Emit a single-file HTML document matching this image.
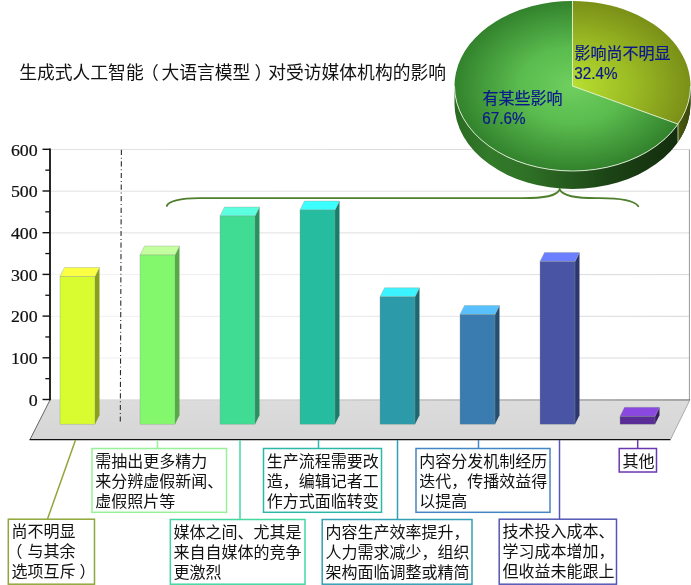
<!DOCTYPE html>
<html lang="zh-CN"><head><meta charset="utf-8"><title>生成式人工智能（大语言模型）对受访媒体机构的影响</title>
<style>html,body{margin:0;padding:0;background:#fff;}body{width:691px;height:585px;overflow:hidden;}svg{display:block;}text{font-family:"Liberation Sans","Noto Sans CJK SC","WenQuanYi Zen Hei",sans-serif;}.num{font-family:"Liberation Serif","Noto Serif CJK SC",serif;font-size:17px;fill:#111;stroke:#111;stroke-width:0.2px;}.lbl{font-size:16px;fill:#111;}.pl{font-size:16px;fill:#0a188c;stroke:#0a188c;stroke-width:0.2px;}.pn{font-size:16.6px;fill:#0a188c;stroke:#0a188c;stroke-width:0.2px;}.title{font-size:17.8px;fill:#111;}</style></head><body>
<svg width="691" height="585" viewBox="0 0 691 585">
<defs>
<radialGradient id="gG" gradientUnits="userSpaceOnUse" cx="572" cy="86" r="118" gradientTransform="translate(0 86) scale(1 0.72) translate(0 -86)"><stop offset="0" stop-color="#6fd060"/><stop offset="0.45" stop-color="#5abb4e"/><stop offset="1" stop-color="#32822c"/></radialGradient>
<radialGradient id="gY" gradientUnits="userSpaceOnUse" cx="572" cy="86" r="118" gradientTransform="translate(0 86) scale(1 0.72) translate(0 -86)"><stop offset="0" stop-color="#b8e030"/><stop offset="0.5" stop-color="#9cbc24"/><stop offset="1" stop-color="#7a9018"/></radialGradient>
<linearGradient id="gS" gradientUnits="userSpaceOnUse" x1="454" y1="0" x2="691" y2="0"><stop offset="0" stop-color="#2a6a22"/><stop offset="0.15" stop-color="#337a2a"/><stop offset="0.3" stop-color="#2f7227"/><stop offset="0.45" stop-color="#275e1f"/><stop offset="0.65" stop-color="#1c4416"/><stop offset="0.85" stop-color="#163410"/><stop offset="1" stop-color="#122c0c"/></linearGradient>
<linearGradient id="gSY" x1="0" y1="0" x2="1" y2="0"><stop offset="0" stop-color="#4a5a0e"/><stop offset="1" stop-color="#3a480a"/></linearGradient>
<linearGradient id="gF" x1="0" y1="0" x2="0" y2="1"><stop offset="0" stop-color="#dcdcdc"/><stop offset="1" stop-color="#d6d6d6"/></linearGradient>
<linearGradient id="gL" gradientUnits="userSpaceOnUse" x1="50" y1="0" x2="690" y2="0"><stop offset="0" stop-color="#f2f2f2"/><stop offset="0.5" stop-color="#e8e8e8"/><stop offset="1" stop-color="#d6d6d6"/></linearGradient>
<linearGradient id="gL2" gradientUnits="userSpaceOnUse" x1="50" y1="0" x2="690" y2="0"><stop offset="0" stop-color="#e2e2e2"/><stop offset="1" stop-color="#dadada"/></linearGradient>
<linearGradient id="gE" gradientUnits="userSpaceOnUse" x1="50" y1="0" x2="690" y2="0"><stop offset="0" stop-color="#dcdcdc"/><stop offset="0.4" stop-color="#c8c8c8"/><stop offset="1" stop-color="#555"/></linearGradient>
</defs>
<rect width="691" height="585" fill="#fff"/>
<rect x="50" y="357.50" width="639.5" height="1" fill="url(#gL)"/>
<rect x="50" y="315.80" width="639.5" height="1" fill="url(#gL)"/>
<rect x="50" y="274.10" width="639.5" height="1" fill="url(#gL)"/>
<rect x="50" y="232.40" width="639.5" height="1" fill="url(#gL2)"/>
<rect x="50" y="190.70" width="639.5" height="1" fill="url(#gL2)"/>
<rect x="50" y="149.00" width="639.5" height="1" fill="url(#gL2)"/>
<rect x="688.9" y="149.6" width="1" height="250.5" fill="#9a9a9a"/>
<polygon points="50,399.7 690,399.7 670.5,439.5 30,439.5" fill="url(#gF)"/>
<rect x="50" y="399.5" width="640" height="0.9" fill="url(#gE)"/>
<line x1="50" y1="400" x2="30" y2="439.5" stroke="#555" stroke-width="0.9"/>
<line x1="29.6" y1="439.6" x2="670.6" y2="439.6" stroke="#111" stroke-width="1.35"/>
<line x1="670.5" y1="439.5" x2="690" y2="399.7" stroke="#9a9a9a" stroke-width="0.8"/>
<line x1="121.4" y1="149.7" x2="120.3" y2="421.6" stroke="#2c2c2c" stroke-width="1.1" stroke-dasharray="5.2 2.8 1 2.6"/>
<line x1="50" y1="148.5" x2="50" y2="400.3" stroke="#111" stroke-width="1.8"/>
<line x1="42.5" y1="399.50" x2="50" y2="399.50" stroke="#111" stroke-width="1.4"/>
<text class="num" transform="translate(37.7,405.70) scale(1.05,1)" text-anchor="end">0</text>
<line x1="45.3" y1="378.65" x2="50" y2="378.65" stroke="#111" stroke-width="1.3"/>
<line x1="42.5" y1="357.80" x2="50" y2="357.80" stroke="#111" stroke-width="1.4"/>
<text class="num" transform="translate(37.7,364.00) scale(1.05,1)" text-anchor="end">100</text>
<line x1="45.3" y1="336.95" x2="50" y2="336.95" stroke="#111" stroke-width="1.3"/>
<line x1="42.5" y1="316.10" x2="50" y2="316.10" stroke="#111" stroke-width="1.4"/>
<text class="num" transform="translate(37.7,322.30) scale(1.05,1)" text-anchor="end">200</text>
<line x1="45.3" y1="295.25" x2="50" y2="295.25" stroke="#111" stroke-width="1.3"/>
<line x1="42.5" y1="274.40" x2="50" y2="274.40" stroke="#111" stroke-width="1.4"/>
<text class="num" transform="translate(37.7,280.60) scale(1.05,1)" text-anchor="end">300</text>
<line x1="45.3" y1="253.55" x2="50" y2="253.55" stroke="#111" stroke-width="1.3"/>
<line x1="42.5" y1="232.70" x2="50" y2="232.70" stroke="#111" stroke-width="1.4"/>
<text class="num" transform="translate(37.7,238.90) scale(1.05,1)" text-anchor="end">400</text>
<line x1="45.3" y1="211.85" x2="50" y2="211.85" stroke="#111" stroke-width="1.3"/>
<line x1="42.5" y1="191.00" x2="50" y2="191.00" stroke="#111" stroke-width="1.4"/>
<text class="num" transform="translate(37.7,197.20) scale(1.05,1)" text-anchor="end">500</text>
<line x1="45.3" y1="170.15" x2="50" y2="170.15" stroke="#111" stroke-width="1.3"/>
<line x1="42.5" y1="149.30" x2="50" y2="149.30" stroke="#111" stroke-width="1.4"/>
<text class="num" transform="translate(37.7,155.50) scale(1.05,1)" text-anchor="end">600</text>
<path d="M166.8,206 C168,201.5 180,198.2 199,198.2 L522,198.2 C545,198.2 557,196 559.7,189.4 C562.5,196 575,198.2 597,198.2 L600,198.2 C620,198.2 634,200.5 638.3,206.2" fill="none" stroke="#4f7f2c" stroke-width="1.8" stroke-linecap="round"/>
<polygon points="95,276.5 99.5,267.5 99.5,415.2 95,424.2" fill="#8aa01c"/>
<polygon points="60,276.5 95,276.5 99.5,267.5 64.5,267.5" fill="#fbff44" stroke="#8a9a8a" stroke-width="0.5" stroke-opacity="0.7"/>
<rect x="60" y="276.5" width="35" height="147.70" fill="#d8fc30" stroke="#8a9a8a" stroke-width="0.5" stroke-opacity="0.7"/>
<polygon points="175,255.0 179.5,246.0 179.5,415.2 175,424.2" fill="#58a848"/>
<polygon points="140,255.0 175,255.0 179.5,246.0 144.5,246.0" fill="#c4ffa0" stroke="#8a9a8a" stroke-width="0.5" stroke-opacity="0.7"/>
<rect x="140" y="255.0" width="35" height="169.20" fill="#84f86c" stroke="#8a9a8a" stroke-width="0.5" stroke-opacity="0.7"/>
<polygon points="255,216.0 259.5,207.0 259.5,415.2 255,424.2" fill="#2a9060"/>
<polygon points="220,216.0 255,216.0 259.5,207.0 224.5,207.0" fill="#5cffe0" stroke="#8a9a8a" stroke-width="0.5" stroke-opacity="0.7"/>
<rect x="220" y="216.0" width="35" height="208.20" fill="#40dc94" stroke="#8a9a8a" stroke-width="0.5" stroke-opacity="0.7"/>
<polygon points="335,210.0 339.5,201.0 339.5,415.2 335,424.2" fill="#1a7c6a"/>
<polygon points="300,210.0 335,210.0 339.5,201.0 304.5,201.0" fill="#3cffff" stroke="#8a9a8a" stroke-width="0.5" stroke-opacity="0.7"/>
<rect x="300" y="210.0" width="35" height="214.20" fill="#26bca0" stroke="#8a9a8a" stroke-width="0.5" stroke-opacity="0.7"/>
<polygon points="415,296.8 419.5,287.8 419.5,415.2 415,424.2" fill="#1e6670"/>
<polygon points="380,296.8 415,296.8 419.5,287.8 384.5,287.8" fill="#3cf4ff" stroke="#8a9a8a" stroke-width="0.5" stroke-opacity="0.7"/>
<rect x="380" y="296.8" width="35" height="127.40" fill="#2c9aa8" stroke="#8a9a8a" stroke-width="0.5" stroke-opacity="0.7"/>
<polygon points="495,314.5 499.5,305.5 499.5,415.2 495,424.2" fill="#264e6e"/>
<polygon points="460,314.5 495,314.5 499.5,305.5 464.5,305.5" fill="#58c0ff" stroke="#8a9a8a" stroke-width="0.5" stroke-opacity="0.7"/>
<rect x="460" y="314.5" width="35" height="109.70" fill="#3a7cb0" stroke="#8a9a8a" stroke-width="0.5" stroke-opacity="0.7"/>
<polygon points="575,261.5 579.5,252.5 579.5,415.2 575,424.2" fill="#2e3670"/>
<polygon points="540,261.5 575,261.5 579.5,252.5 544.5,252.5" fill="#6c80ff" stroke="#8a9a8a" stroke-width="0.5" stroke-opacity="0.7"/>
<rect x="540" y="261.5" width="35" height="162.70" fill="#4a54a4" stroke="#8a9a8a" stroke-width="0.5" stroke-opacity="0.7"/>
<polygon points="655,416.3 659.5,407.3 659.5,415.2 655,424.2" fill="#3a1c64"/>
<polygon points="620,416.3 655,416.3 659.5,407.3 624.5,407.3" fill="#8a48e0" stroke="#8a9a8a" stroke-width="0.5" stroke-opacity="0.7"/>
<rect x="620" y="416.3" width="35" height="7.90" fill="#5a2c98" stroke="#8a9a8a" stroke-width="0.5" stroke-opacity="0.7"/>
<path d="M454.5,86 L454.5,104 A118,85 0 0 0 690.5,104 L690.5,86 A118,85 0 0 1 454.5,86 Z" fill="url(#gS)"/>
<path d="M677.97,124.11 L677.97,142.11 A118,85 0 0 0 690.5,104 L690.5,86 A118,85 0 0 1 677.97,124.11 Z" fill="url(#gSY)"/>
<line x1="677.97" y1="124.11" x2="677.97" y2="142.11" stroke="#d8e8c0" stroke-width="0.8"/>
<path d="M572.5,86 L572.5,1 A118,85 0 1 0 677.97,124.11 Z" fill="url(#gG)"/>
<path d="M572.5,86 L572.5,1 A118,85 0 0 1 677.97,124.11 Z" fill="url(#gY)"/>
<path d="M572.5,1 L572.5,86 L677.97,124.11" fill="none" stroke="#e4f0d0" stroke-width="0.9"/>
<path d="M454.5,86 A118,85 0 0 0 690.5,86" fill="none" stroke="#e6f2e0" stroke-width="1" opacity="0.9"/>
<text class="pl" x="574.5" y="59.2">影响尚不明显</text>
<text class="pn" transform="translate(574.3,79.4) scale(0.92,1)">32.4%</text>
<text class="pl" x="482.5" y="103.6">有某些影响</text>
<text class="pn" transform="translate(482.3,124) scale(0.92,1)">67.6%</text>
<text class="title" x="19.2" y="78.5">生成式人工智能<tspan dx="-2.6">（</tspan><tspan dx="2.6">大语言模型</tspan><tspan dx="4">）</tspan><tspan dx="-4">对受访媒体机构的影响</tspan></text>
<line x1="75.5" y1="440" x2="47.5" y2="519" stroke="#8fa63a" stroke-width="1.5"/>
<rect x="8.3" y="519.2" width="86.20" height="65.00" fill="#fff" stroke="#8fa63a" stroke-width="1.5"/>
<text class="lbl" x="11.50" y="537.30">尚不明显</text>
<text class="lbl" x="11.50" y="557.30"><tspan dx="-5">（</tspan><tspan dx="5">与其余</tspan></text>
<text class="lbl" x="11.50" y="577.30">选项互斥<tspan dx="4">）</tspan></text>
<line x1="157.5" y1="440" x2="157.5" y2="448.5" stroke="#98f098" stroke-width="1.5"/>
<rect x="92" y="448.5" width="134.50" height="63.80" fill="#fff" stroke="#98f098" stroke-width="1.5"/>
<text class="lbl" x="95.20" y="466.60">需抽出更多精力</text>
<text class="lbl" x="95.20" y="486.60">来分辨虚假新闻、</text>
<text class="lbl" x="95.20" y="506.60">虚假照片等</text>
<line x1="240" y1="440" x2="240" y2="519.5" stroke="#44d8a0" stroke-width="1.5"/>
<rect x="170.3" y="519.5" width="134.70" height="64.70" fill="#fff" stroke="#44d8a0" stroke-width="1.5"/>
<text class="lbl" x="173.50" y="537.60">媒体之间、尤其是</text>
<text class="lbl" x="173.50" y="557.60">来自自媒体的竞争</text>
<text class="lbl" x="173.50" y="577.60">更激烈</text>
<line x1="318.5" y1="440" x2="318.5" y2="448.5" stroke="#2cb8a8" stroke-width="1.5"/>
<rect x="263.5" y="448.5" width="118.00" height="63.80" fill="#fff" stroke="#2cb8a8" stroke-width="1.5"/>
<text class="lbl" x="266.70" y="466.60">生产流程需要改</text>
<text class="lbl" x="266.70" y="486.60">造，编辑记者工</text>
<text class="lbl" x="266.70" y="506.60">作方式面临转变</text>
<line x1="397.5" y1="440" x2="397.5" y2="519.5" stroke="#34a0b4" stroke-width="1.5"/>
<rect x="322.2" y="519.5" width="149.80" height="64.70" fill="#fff" stroke="#34a0b4" stroke-width="1.5"/>
<text class="lbl" x="325.40" y="537.60">内容生产效率提升，</text>
<text class="lbl" x="325.40" y="557.60">人力需求减少，组织</text>
<text class="lbl" x="325.40" y="577.60">架构面临调整或精简</text>
<line x1="478.5" y1="440" x2="478.5" y2="448.5" stroke="#4486c4" stroke-width="1.5"/>
<rect x="416" y="448.5" width="134.00" height="63.80" fill="#fff" stroke="#4486c4" stroke-width="1.5"/>
<text class="lbl" x="419.20" y="466.60">内容分发机制经历</text>
<text class="lbl" x="419.20" y="486.60">迭代，传播效益得</text>
<text class="lbl" x="419.20" y="506.60">以提高</text>
<line x1="559.5" y1="440" x2="559.5" y2="519" stroke="#5458b4" stroke-width="1.5"/>
<rect x="499.2" y="519.2" width="117.30" height="65.00" fill="#fff" stroke="#5458b4" stroke-width="1.5"/>
<text class="lbl" x="502.40" y="537.30">技术投入成本、</text>
<text class="lbl" x="502.40" y="557.30">学习成本增加，</text>
<text class="lbl" x="502.40" y="577.30">但收益未能跟上</text>
<line x1="637.7" y1="440" x2="637.7" y2="448.5" stroke="#6a38b0" stroke-width="1.5"/>
<rect x="619.2" y="448.5" width="37.30" height="23.50" fill="#fff" stroke="#6a38b0" stroke-width="1.5"/>
<text class="lbl" x="622.40" y="466.60">其他</text>
</svg></body></html>
